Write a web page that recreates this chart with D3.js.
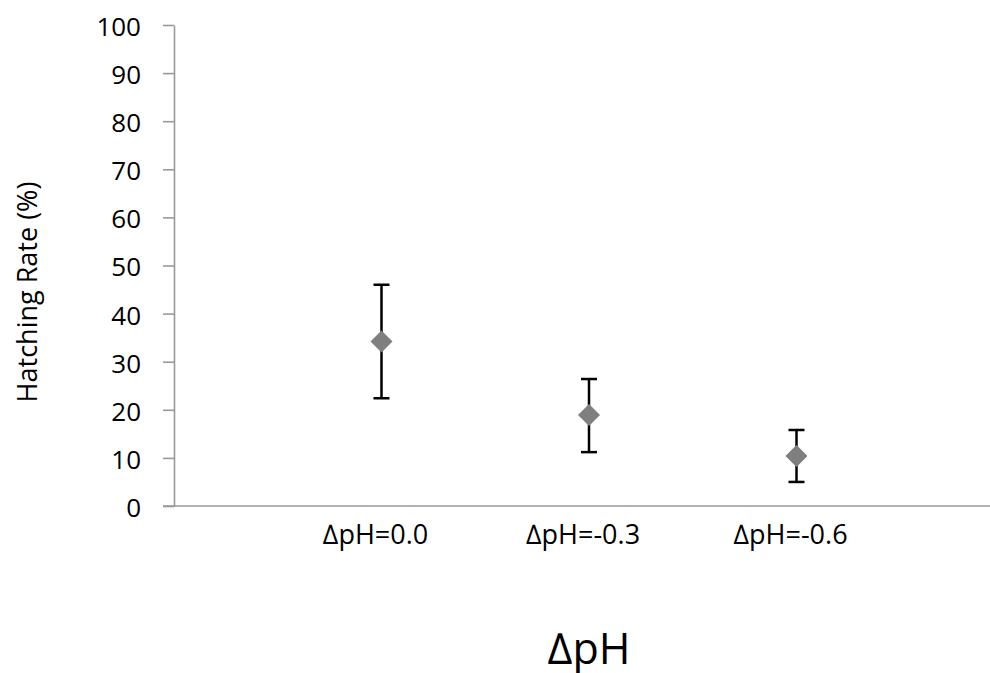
<!DOCTYPE html>
<html>
<head>
    <script src="https://cdnjs.cloudflare.com/ajax/libs/d3/7.8.5/d3.min.js"></script>
    <style>
        body { margin: 0; background: #fff; }
        text { font-family: "Open Sans", "Noto Sans", Arial, sans-serif; fill: #000; }
    </style>
</head>
<body>
    <svg id="chart" width="990" height="673"></svg>
    <script>
        // data
        const categories = ["\u2206pH=0.0", "\u2206pH=-0.3", "\u2206pH=-0.6"];
        const means = [34.2, 18.9, 10.4];
        const upper = [46.0, 26.4, 15.8];
        const lower = [22.4, 11.2, 5.0];
        const yTicks = [0, 10, 20, 30, 40, 50, 60, 70, 80, 90, 100];

        const svg = d3.select("#chart");
        const plotLeft = 174, plotRight = 1004, plotTop = 25, plotBottom = 506;

        const x = d3.scaleLinear().domain([0, 4]).range([plotLeft, plotRight]);
        const y = d3.scaleLinear().domain([0, 100]).range([plotBottom, plotTop]);

        // y axis
        const yAxis = svg.append("g")
            .attr("transform", `translate(${plotLeft},0)`)
            .call(d3.axisLeft(y).tickValues(yTicks).tickSize(11).tickSizeOuter(0).tickPadding(22));
        yAxis.selectAll("line, path").attr("stroke", "#999").attr("stroke-width", 1.6);
        yAxis.selectAll("text").attr("font-size", 26).attr("fill", "#000").attr("dy", "0.4em");

        // x axis line (no ticks)
        svg.append("line")
            .attr("x1", plotLeft - 11).attr("x2", 990)
            .attr("y1", y(0)).attr("y2", y(0))
            .attr("stroke", "#999").attr("stroke-width", 1.6);

        svg.selectAll(".cat")
            .data(categories)
            .enter()
            .append("text")
            .attr("x", (d, i) => x(i + 1) - 6)
            .attr("y", 544)
            .attr("text-anchor", "middle")
            .attr("font-size", 27)
            .text(d => d);

        // error bars
        const bars = svg.selectAll(".err")
            .data(means.map((m, i) => ({m, hi: upper[i], lo: lower[i], i})))
            .enter()
            .append("g");
        bars.append("line")
            .attr("x1", d => x(d.i + 1)).attr("x2", d => x(d.i + 1))
            .attr("y1", d => y(d.hi)).attr("y2", d => y(d.lo))
            .attr("stroke", "#000").attr("stroke-width", 2.5);
        bars.append("line")
            .attr("x1", d => x(d.i + 1) - 8).attr("x2", d => x(d.i + 1) + 8)
            .attr("y1", d => y(d.hi)).attr("y2", d => y(d.hi))
            .attr("stroke", "#000").attr("stroke-width", 2.5);
        bars.append("line")
            .attr("x1", d => x(d.i + 1) - 8).attr("x2", d => x(d.i + 1) + 8)
            .attr("y1", d => y(d.lo)).attr("y2", d => y(d.lo))
            .attr("stroke", "#000").attr("stroke-width", 2.5);

        // diamonds
        bars.append("path")
            .attr("d", d => {
                const cx = x(d.i + 1), cy = y(d.m), r = 11;
                return `M${cx},${cy - r}L${cx + r},${cy}L${cx},${cy + r}L${cx - r},${cy}Z`;
            })
            .attr("fill", "#7f7f7f");

        // axis titles
        svg.append("text")
            .attr("transform", `translate(37,292) rotate(-90)`)
            .attr("text-anchor", "middle")
            .attr("font-size", 27)
            .text("Hatching Rate (%)");

        svg.append("text")
            .attr("x", 589)
            .attr("y", 664)
            .attr("text-anchor", "middle")
            .attr("font-size", 43)
            .text("\u2206pH");
    </script>
</body>
</html>
